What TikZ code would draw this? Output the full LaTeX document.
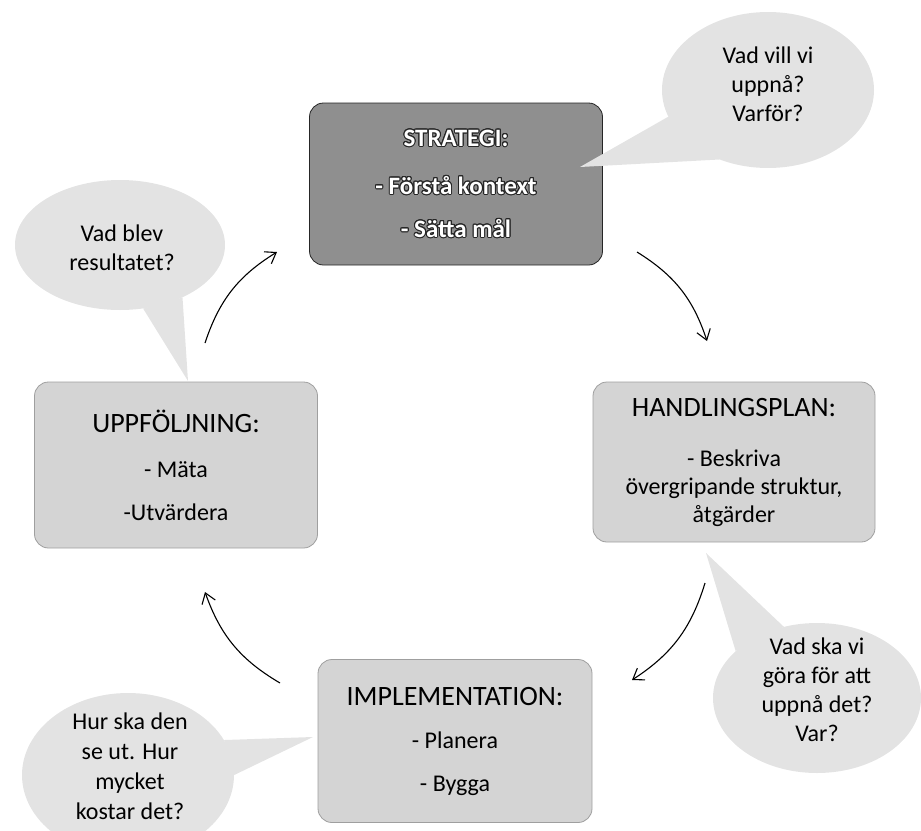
\documentclass[tikz,border=0pt]{standalone}
\usepackage{fontspec}
\setmainfont{Carlito}
\usepackage{contour}
\contourlength{1pt}
\usetikzlibrary{arrows.meta,shapes.geometric}

\definecolor{boxgray}{gray}{0.83}
\definecolor{bubblegray}{gray}{0.89}
\definecolor{stratgray}{gray}{0.56}

\newcommand{\boxhead}{\fontsize{28}{32}\selectfont}
\newcommand{\strtext}[1]{\contour{black!85}{\textcolor{white}{#1}}}

\begin{document}
\begin{tikzpicture}[x=1pt, y=-1pt,
		>={Straight Barb[length=10pt,width=14pt]},
		box/.style={rectangle, rounded corners=14pt, fill=boxgray, draw=gray!75, line width=0.8pt,
			align=center, font=\fontsize{24}{28}\selectfont},
		bubble/.style={ellipse, fill=bubblegray, inner sep=0pt},
		qtext/.style={align=center, font=\fontsize{24}{29}\selectfont},
		flow/.style={->, line width=1.1pt}]
				\useasboundingbox (0,0) rectangle (921,830);

				% the four steps
				\node[box, fill=stratgray, draw=gray!30!black, minimum width=293pt, minimum height=162pt,
					font=\bfseries\fontsize{25}{28}\selectfont] (S) at (456,184)
					{\strtext{STRATEGI:}\\[20pt] \strtext{- Förstå kontext}\\[15pt] \strtext{- Sätta mål}};
				\node[box, minimum width=282pt, minimum height=160pt] (H) at (734,462)
					{{\boxhead HANDLINGSPLAN:}\\[22pt] - Beskriva\\ övergripande struktur,\\ åtgärder};
				\node[box, minimum width=274pt, minimum height=163pt] (I) at (455,741)
					{{\boxhead IMPLEMENTATION:}\\[15pt] - Planera\\[15pt] - Bygga};
				\node[box, minimum width=283pt, minimum height=166pt] (U) at (176,465)
					{{\boxhead UPPFÖLJNING:}\\[17pt] - Mäta\\[15pt] -Utvärdera};

				% the question bubbles
				\node[bubble, minimum width=212pt, minimum height=156pt] (QS) at (768,90) {};
				\node[bubble, minimum width=208pt, minimum height=150pt] (QH) at (817,698) {};
				\node[bubble, minimum width=212pt, minimum height=164pt] (QI) at (128,775) {};
				\node[bubble, minimum width=210pt, minimum height=130pt] (QU) at (120,245) {};

				\coordinate (ts) at (580,167);
				\coordinate (th) at (706,553);
				\coordinate (ti) at (313,737);
				\coordinate (tu) at (188,381);
				\fill[bubblegray] (QS.195) -- (ts) -- (QS.235) -- cycle;
				\fill[bubblegray] (QH.115) -- (th) -- (QH.150) -- cycle;
				\fill[bubblegray] (QI.20) -- (ti) -- (QI.0) -- cycle;
				\fill[bubblegray] (QU.290) -- (tu) -- (QU.320) -- cycle;

				\node[qtext] (QSt) at (768,84)  {Vad vill vi\\uppnå?\\Varför?};
				\node[qtext] (QHt) at (817,690) {Vad ska vi\\göra för att\\uppnå det?\\Var?};
				\node[qtext, font=\fontsize{24}{30}\selectfont] (QIt) at (130,766) {Hur ska den\\se ut. Hur\\mycket\\kostar det?};
				\node[qtext] (QUt) at (122,248) {Vad blev\\resultatet?};

				% the cycle
				\coordinate (a1) at (637,252);
				\coordinate (b1) at (707,341);
				\coordinate (a2) at (705,583);
				\coordinate (b2) at (632,680);
				\coordinate (a3) at (280,683);
				\coordinate (b3) at (205,592);
				\coordinate (a4) at (205,343);
				\coordinate (b4) at (277,252);

				\path [flow] (a1) edge[bend left=20] (b1);
				\path [flow] (a2) edge[bend left=20] (b2);
				\path [flow] (a3) edge[bend left=20] (b3);
				\path [flow] (a4) edge[bend left=20] (b4);
			\end{tikzpicture}
\end{document}
